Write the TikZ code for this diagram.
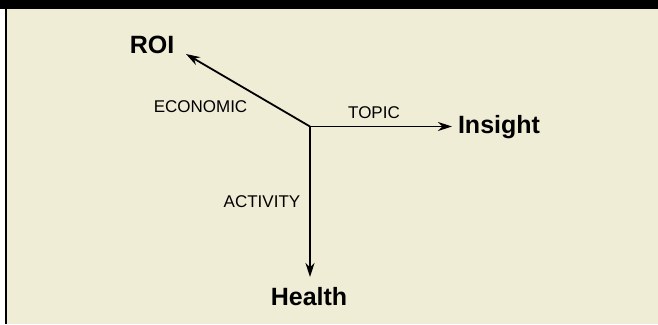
\documentclass[tikz,border=0pt]{standalone}
\usepackage{fontspec}
\setmainfont{Liberation Sans}
\usetikzlibrary{arrows.meta, positioning}
\definecolor{panel}{RGB}{240,237,214}

\begin{document}
\begin{tikzpicture}[x=1pt,y=-1pt,>={Stealth[length=14pt,width=9pt,inset=4.5pt]}]
    \tikzstyle{axis}=[->, draw=black, line width=1.8pt]
    \tikzstyle{goal}=[font=\fontsize{25}{30}\selectfont\bfseries, inner sep=0pt, anchor=base]
    \tikzstyle{dim}=[font=\fontsize{17}{20}\selectfont, inner sep=0pt, anchor=base]

    % frame: black band on top, thin rule down the left
    \fill[white] (0,0) rectangle (658,324);
    \fill[panel] (7,9) rectangle (658,324);
    \fill[black] (0,0) rectangle (658,9);
    \fill[black] (5,9) rectangle (7,324);
    \useasboundingbox (0,0) rectangle (658,324);

    \coordinate (O) at (310,126.5);
    \coordinate (T-roi) at (186,54);
    \coordinate (T-insight) at (452,126.5);
    \coordinate (T-health) at (310,277);

    \node[goal] (roi) at (152,53) {ROI};
    \node[goal] (insight) at (499,133) {Insight};
    \node[goal] (health) at (309,305) {Health};

    \node[dim] (economic) at (200.5,112) {ECONOMIC};
    \node[dim] (topic) at (374,118) {TOPIC};
    \node[dim] (activity) at (262,207) {ACTIVITY};

    \draw[axis] (O) -- (T-roi);
    \draw[axis] (O) -- (T-insight);
    \draw[axis] (O) -- (T-health);
\end{tikzpicture}
\end{document}
